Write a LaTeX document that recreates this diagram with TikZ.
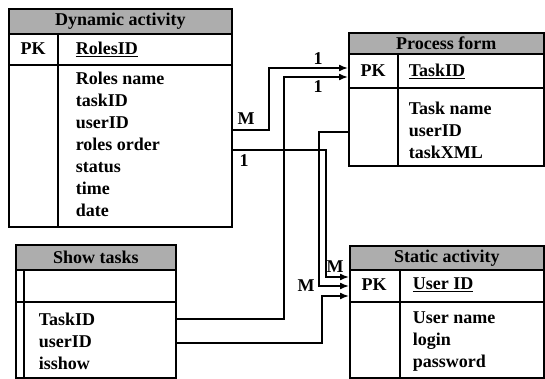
\documentclass[tikz,border=0pt]{standalone}
\usepackage{fontspec}
\setmainfont{Liberation Serif}
\usetikzlibrary{arrows.meta}

\begin{document}
\begin{tikzpicture}[x=1pt, y=-1pt, line width=1.6pt,
	entity/.style={draw, rectangle, anchor=north west, inner sep=0pt},
	title/.style={entity, fill=black!32, font=\fontsize{18}{22}\selectfont\bfseries},
	txt/.style={inner sep=0pt, font=\fontsize{18}{22}\selectfont\bfseries},
	rows/.style={txt, align=left, anchor=north west},
	link/.style={-{Latex[length=9pt,width=7pt]}}]
	\useasboundingbox (0,0) rectangle (545,379);
	% Dynamic activity
	\node[entity, minimum width=223pt, minimum height=218pt] (dyn) at (8,8) {};
	\node[title, minimum width=223pt, minimum height=25pt] (dynhead) at (8,8) {Dynamic activity};
	\draw (8,65) -- (231,65);
	\draw (58,33) -- (58,226);
	\node[txt] (dynpk) at (33,49) {PK};
	\node[txt, anchor=west] (dynkey) at (75,49) {\underline{RolesID}};
	\node[rows] (dynrows) at (75,71) {Roles name\\taskID\\userID\\roles order\\status\\time\\date};
	% Process form
	\node[entity, minimum width=195pt, minimum height=133pt] (proc) at (348,32) {};
	\node[title, minimum width=195pt, minimum height=21pt] (prochead) at (348,32) {Process form};
	\draw (348,88) -- (543,88);
	\draw (398,53) -- (398,165);
	\node[txt] (procpk) at (373,71) {PK};
	\node[txt, anchor=west] (prockey) at (408,71) {\underline{TaskID}};
	\node[rows] (procrows) at (408,101) {Task name\\userID\\taskXML};
	% Show tasks
	\node[entity, minimum width=160pt, minimum height=133pt] (show) at (15,244) {};
	\node[title, minimum width=160pt, minimum height=25pt] (showhead) at (15,244) {Show tasks};
	\draw (15,302) -- (175,302);
	\draw (24,269) -- (24,377);
	\node[rows] (showrows) at (38,312) {TaskID\\userID\\isshow};
	% Static activity
	\node[entity, minimum width=194pt, minimum height=132pt] (stat) at (349,245) {};
	\node[title, minimum width=194pt, minimum height=24pt] (stathead) at (349,245) {Static activity};
	\draw (349,302) -- (543,302);
	\draw (400,269) -- (400,377);
	\node[txt] (statpk) at (374,285) {PK};
	\node[txt, anchor=west] (statkey) at (412,285) {\underline{User ID}};
	\node[rows] (statrows) at (412,311) {User name\\login\\password};
	% ends of the links
	\coordinate (dynA) at (231,130);
	\coordinate (dynB) at (231,150);
	\coordinate (procA) at (348,68);
	\coordinate (procB) at (348,77);
	\coordinate (procC) at (348,132);
	\coordinate (showA) at (175,319);
	\coordinate (showB) at (175,343);
	\coordinate (statA) at (349,277);
	\coordinate (statB) at (349,286);
	\coordinate (statC) at (349,296);
	% links
	\draw[link] (dynA) -- ++(38,0) |- (procA);
	\draw[link] (showA) -- ++(109,0) |- (procB);
	\draw[link] (dynB) -- ++(95,0) |- (statA);
	\draw[link] (procC) -- ++(-29,0) |- (statB);
	\draw[link] (showB) -- ++(147,0) |- (statC);
	\node[txt] (m1) at (246,119) {M};
	\node[txt] (o1) at (318,59) {1};
	\node[txt] (o2) at (318,87) {1};
	\node[txt] (o3) at (244,161) {1};
	\node[txt] (m2) at (335,267) {M};
	\node[txt] (m3) at (306,286) {M};
\end{tikzpicture}
\end{document}
